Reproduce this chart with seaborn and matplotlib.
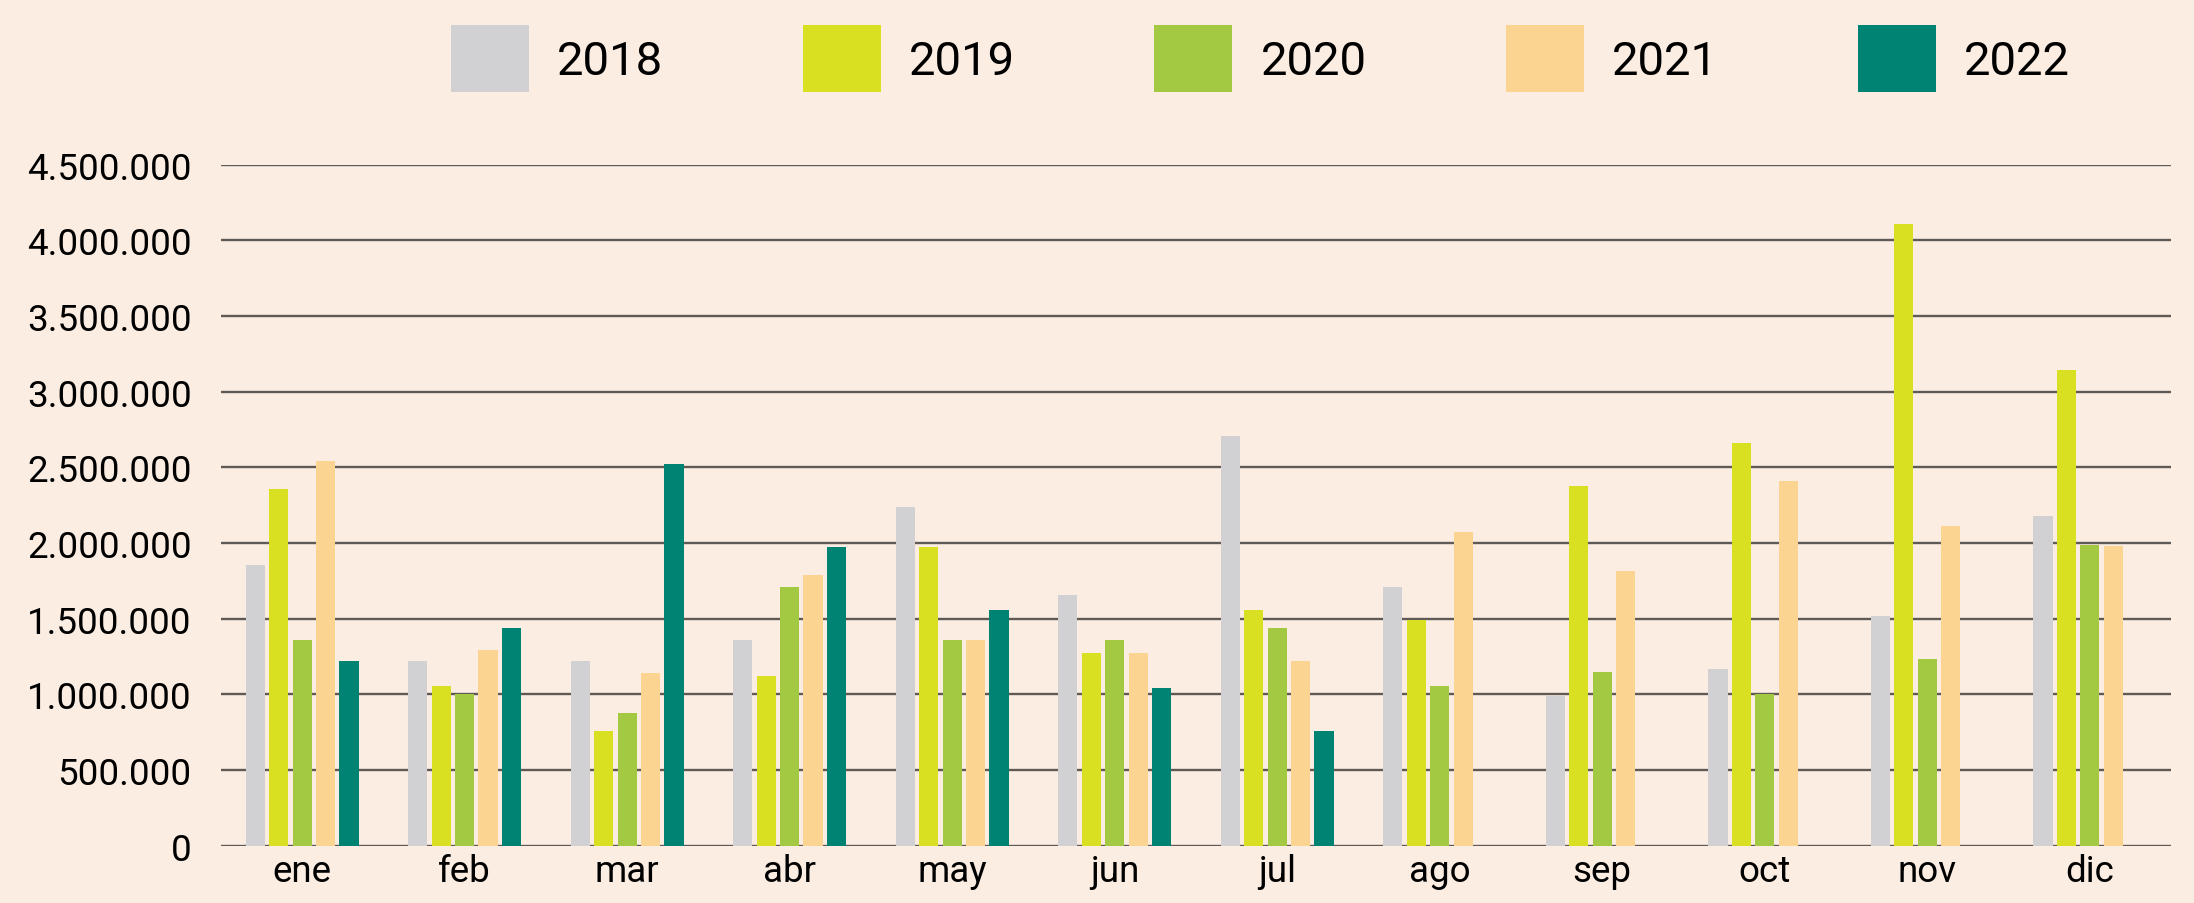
import pandas as pd
import numpy as np
import matplotlib
matplotlib.use('Agg')
import matplotlib.pyplot as plt
import seaborn as sns

# Datos
meses = ['ene', 'feb', 'mar', 'abr', 'may', 'jun', 'jul', 'ago', 'sep', 'oct', 'nov', 'dic']
anios = ['2018', '2019', '2020', '2021', '2022']

v2018 = [1857000, 1222000, 1222000, 1357000, 2240000, 1657000, 2707000, 1707000, 990000, 1170000, 1519000, 2178000]
v2019 = [2357000, 1057000, 758000, 1123000, 1974000, 1273000, 1557000, 1491000, 2379000, 2664000, 4107000, 3144000]
v2020 = [1357000, 1004000, 875000, 1707000, 1357000, 1357000, 1440000, 1057000, 1151000, 1005000, 1233000, 1987000]
v2021 = [2542000, 1291000, 1141000, 1791000, 1357000, 1273000, 1222000, 2075000, 1813000, 2412000, 2114000, 1981000]
v2022 = [1222000, 1440000, 2524000, 1974000, 1557000, 1040000, 758000, np.nan, np.nan, np.nan, np.nan, np.nan]

colores = ['#d1d1d3', '#d9e021', '#a3c842', '#fbd491', '#018374']
fondo = '#fcede2'

# Tabla larga para seaborn
series = [v2018, v2019, v2020, v2021, v2022]
df = pd.DataFrame({
    'mes': meses * len(anios),
    'anio': [a for a in anios for _ in meses],
    'valor': [v for s in series for v in s],
})

sns.set_theme(style='white')
plt.rcParams['font.family'] = ['Roboto', 'DejaVu Sans']
plt.rcParams['text.color'] = 'black'

fig = plt.figure(figsize=(21.94, 9.04), dpi=100, facecolor=fondo)
ax = fig.add_axes([0.1007, 0.0634, 0.8888, 0.7533])
ax.set_facecolor(fondo)

sns.barplot(data=df, x='mes', y='valor', hue='anio', order=meses, hue_order=anios,
            palette=colores, saturation=1, width=0.72, gap=0.18, errorbar=None,
            linewidth=0, ax=ax)

ax.set_ylim(0, 4500000)
ax.set_xlim(-0.5, 11.5)
ax.set_yticks(range(0, 4500001, 500000))
ax.yaxis.set_major_formatter(plt.FuncFormatter(lambda val, loc: "{:,}".format(int(val)).replace(',', '.')))
ax.yaxis.grid(True, color='#5f5a56', linewidth=1.7)
ax.set_axisbelow(True)
for s in ax.spines.values():
    s.set_visible(False)
ax.set_xlabel('')
ax.set_ylabel('')
ax.tick_params(axis='y', length=0, pad=21, labelsize=26.5, labelcolor='black')
ax.tick_params(axis='x', length=0, pad=5, labelsize=26.5, labelcolor='black')

# Leyenda arriba
handles, labels = ax.get_legend_handles_labels()
ax.legend_.remove()
leg = fig.legend(handles, labels, loc='center', bbox_to_anchor=(0.5745, 0.934), ncol=5,
                 frameon=False, fontsize=34, handlelength=1.65, handleheight=1.8,
                 handletextpad=0.6, columnspacing=2.95)
for t in leg.get_texts():
    t.set_color('black')

plt.savefig('out.png', dpi=100, facecolor=fondo)
plt.close()
